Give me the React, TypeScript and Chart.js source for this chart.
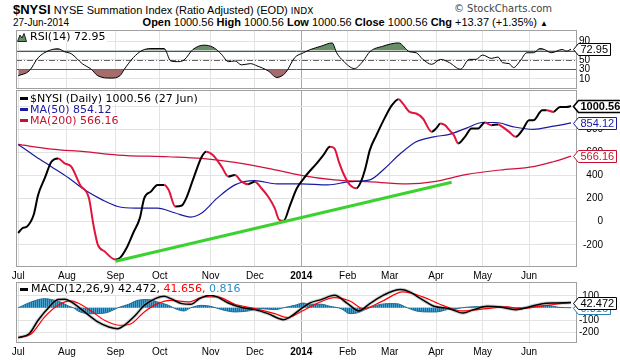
import React, { useEffect, useRef } from 'react';
import { Chart, registerables } from 'chart.js';

Chart.register(...registerables);

const SANS = '"Liberation Sans", Arial, sans-serif';
const DEJAVU = '"DejaVu Sans", Verdana, sans-serif';

// x = trading-day index: 0 = 1-Jul-2013 ... 250 = 27-Jun-2014
const monthTickDays = [0, 22, 44, 64, 87, 107, 128, 149, 168, 189, 210, 231];
const monthTickLabels = ['Jul', 'Aug', 'Sep', 'Oct', 'Nov', 'Dec', '2014', 'Feb', 'Mar', 'Apr', 'May', 'Jun'];
const yearTickDay = 128;

// $NYSI daily close
const nysiDays = [0, 2, 4, 7, 9, 12, 15, 18, 21, 24, 28, 32, 34, 36, 39, 44, 46, 49, 52, 55, 57, 60, 63, 66, 68, 71, 74, 76, 79, 83, 85, 88, 92, 95, 98, 101, 104, 107, 110, 113, 116, 118, 120, 123, 126, 129, 131, 135, 138, 141, 143, 145, 147, 150, 153, 155, 157, 159, 162, 166, 169, 172, 174, 177, 180, 183, 187, 189, 191, 193, 195, 197, 199, 202, 205, 208, 211, 214, 217, 219, 222, 225, 228, 231, 233, 237, 239, 242, 245, 248, 250];
const nysiValues = [-100, -57, -43, 58, 230, 375, 518, 547, 504, 475, 317, 202, -28, -201, -259, -331, -316, -230, -100, 29, 202, 259, 317, 317, 274, 130, 138, 202, 360, 561, 605, 576, 475, 389, 403, 345, 323, 345, 288, 216, 116, 15, 6, 144, 288, 370, 418, 504, 576, 648, 634, 518, 418, 317, 288, 345, 461, 619, 749, 907, 1008, 1060, 1022, 950, 936, 893, 777, 807, 850, 835, 792, 749, 677, 734, 807, 807, 858, 835, 841, 820, 777, 734, 792, 878, 878, 965, 965, 950, 993, 993, 1000.56];

// MA(50)
const ma50Days = [0, 8, 15, 23, 30, 38, 45, 53, 63, 71, 78, 83, 90, 98, 107, 117, 128, 140, 150, 159, 165, 173, 180, 188, 195, 203, 210, 216, 224, 233, 242, 250];
const ma50Values = [668, 561, 475, 375, 274, 187, 130, 116, 116, 73, 38, 73, 202, 317, 354, 326, 326, 317, 345, 360, 446, 591, 691, 734, 755, 812, 858, 858, 820, 798, 826, 854.12];

// MA(200)
const ma200Days = [0, 15, 30, 45, 68, 83, 98, 113, 128, 143, 158, 176, 188, 203, 218, 233, 242, 250];
const ma200Values = [668, 628, 605, 576, 561, 547, 513, 461, 400, 360, 345, 326, 345, 409, 446, 475, 518, 566.16];

// hand-drawn trend line
const trendDays = [44, 196];
const trendValues = [-345, 340];

// RSI(14)
const rsiDays = [0, 5, 9, 14, 18, 21, 24, 29, 33, 36, 42, 46, 48, 52, 56, 60, 66, 69, 72, 75, 79, 84, 88, 92, 95, 98, 101, 105, 108, 113, 117, 121, 125, 129, 132, 137, 142, 144, 147, 152, 156, 159, 165, 172, 177, 180, 183, 187, 191, 195, 200, 204, 207, 210, 214, 217, 219, 222, 224, 227, 230, 233, 236, 238, 241, 246, 248, 250];
const rsiValues = [16.3, 26.8, 54.8, 70.2, 73.8, 67.5, 63.3, 42, 30.2, 16.3, 11.3, 16.3, 30.2, 54.8, 70.2, 74.4, 74.4, 47.9, 46.4, 50, 72.3, 81.6, 77.4, 61.8, 46.4, 47.9, 39.5, 42.2, 37.4, 26.8, 12.7, 23.3, 54.8, 65.4, 72, 79.5, 86.4, 65.4, 47.9, 31.7, 47.9, 67.5, 79.5, 86.4, 67.5, 65.4, 51.3, 40.7, 51.3, 44.3, 30.2, 51.3, 51.3, 60.5, 53.4, 56.3, 44.3, 42.2, 33.8, 47.9, 65.4, 65.4, 74.4, 72.3, 65.4, 72.3, 69, 72.95];

// MACD(12,26,9)
const macdDays = [0, 5, 9, 14, 18, 21, 24, 30, 36, 41, 45, 48, 53, 57, 62, 66, 69, 74, 78, 82, 87, 90, 95, 101, 107, 113, 120, 123, 128, 132, 137, 143, 149, 154, 159, 165, 173, 177, 182, 188, 195, 201, 206, 212, 218, 225, 231, 237, 243, 250];
const macdValues = [-244, -212, -102, 7, 67, 70, 48, -34, -116, -157, -171, -143, -61, 20, 75, 94, 75, 34, 29, 75, 102, 89, 39, 2, -15, -48, -97, -75, -7, 40, 67, 102, 34, -26, 34, 102, 149, 130, 75, 12, -7, -43, -15, 12, 7, -15, 7, 34, 40, 42.472];
const signalDays = [0, 6, 12, 18, 24, 27, 33, 39, 46, 51, 57, 63, 69, 77, 84, 90, 98, 107, 116, 122, 128, 135, 143, 150, 156, 164, 174, 183, 192, 201, 212, 221, 227, 236, 243, 250];
const signalValues = [-244, -212, -75, 20, 56, 39, -26, -102, -143, -130, -34, 34, 61, 48, 89, 89, 29, -7, -48, -80, -30, 34, 84, 56, -7, 48, 130, 89, 20, -26, -7, 7, -7, 12, 29, 41.656];
const histDays = [0, 4, 8, 12, 15, 19, 23, 25, 27, 32, 36, 41, 45, 50, 54, 59, 63, 68, 71, 75, 78, 83, 87, 92, 98, 104, 110, 116, 120, 125, 129, 132, 137, 141, 146, 150, 153, 158, 162, 167, 171, 176, 180, 185, 189, 194, 198, 203, 209, 218, 225, 233, 239, 245, 250];
const histValues = [0, 34, 61, 75, 67, 48, 12, 0, -26, -48, -48, -34, 0, 29, 61, 67, 48, 20, -7, -26, 0, 20, 12, -15, -34, -26, -7, -15, 0, 20, 39, 29, 29, 12, -7, -48, -43, -7, 20, 34, 34, 0, -26, -34, -34, -15, -7, 5, 10, 10, 0, 10, 20, 3, 0.816];

const rsiTicks = [10, 30, 50, 70, 90];
const priceTicks = [-200, 0, 200, 400, 600, 800, 1000];
const macdTicks = [-200, -100, 0, 100];

const pts = (days: number[], vals: number[]) => days.map((d, i) => ({ x: d, y: vals[i] }));
const last = (a: number[]) => a[a.length - 1];

function xAxis(showLabels: boolean, height: number): any {
  return {
    type: 'linear',
    min: -1,
    max: 252.7,
    afterBuildTicks: (s: any) => { s.ticks = monthTickDays.map((v) => ({ value: v })); },
    afterFit: (s: any) => { s.height = height; s.paddingLeft = 0; s.paddingRight = 0; },
    grid: {
      color: (c: any) => (c.tick && c.tick.value === yearTickDay ? '#a8a8a8' : '#e3e3e3'),
      drawTicks: false,
    },
    border: { display: false },
    ticks: {
      display: showLabels,
      autoSkip: false,
      maxRotation: 0,
      padding: 3,
      color: '#000',
      font: (c: any) => ({ family: SANS, size: 10, weight: c.tick && c.tick.value === yearTickDay ? 'bold' : 'normal' }),
      callback: (v: any) => { const i = monthTickDays.indexOf(v); return i >= 0 ? monthTickLabels[i] : ''; },
    },
  };
}

function yAxis(min: number, max: number, ticks: number[]): any {
  return {
    type: 'linear',
    position: 'right',
    min,
    max,
    afterBuildTicks: (s: any) => { s.ticks = ticks.map((v) => ({ value: v })); },
    afterFit: (s: any) => { s.width = 43; s.paddingTop = 0; s.paddingBottom = 0; },
    grid: { color: '#e3e3e3', drawTicks: false },
    border: { display: false },
    ticks: { display: false },
  };
}

// right-axis tick labels, right-aligned at a fixed edge
const makeYLabels = (ticks: number[], blank: number[], rightEdge: number) => ({
  id: 'ylabels',
  afterDraw(chart: any) {
    const { ctx, scales } = chart;
    ctx.save();
    ctx.font = `10px ${SANS}`;
    ctx.fillStyle = '#000';
    ctx.textAlign = 'right';
    ctx.textBaseline = 'middle';
    ticks.forEach((v) => {
      if (blank.indexOf(v) >= 0) return;
      ctx.fillText(String(v), rightEdge, Math.round(scales.y.getPixelForValue(v)) + 0.5);
    });
    ctx.restore();
  },
});

type HLine = { value: number; color: string; dash?: number[] };
const makeHLines = (lines: HLine[]) => ({
  id: 'hlines',
  beforeDatasetsDraw(chart: any) {
    const { ctx, chartArea, scales } = chart;
    ctx.save();
    lines.forEach((l) => {
      const y = Math.round(scales.y.getPixelForValue(l.value)) + 0.5;
      ctx.beginPath();
      ctx.setLineDash(l.dash || []);
      ctx.strokeStyle = l.color;
      ctx.lineWidth = 1;
      ctx.moveTo(chartArea.left, y);
      ctx.lineTo(chartArea.right, y);
      ctx.stroke();
    });
    ctx.restore();
  },
});

const framePlugin = {
  id: 'frame',
  afterDatasetsDraw(chart: any) {
    const { ctx, chartArea } = chart;
    ctx.save();
    ctx.strokeStyle = '#a0a0a0';
    ctx.lineWidth = 1;
    ctx.strokeRect(Math.round(chartArea.left) + 0.5, Math.round(chartArea.top) + 0.5,
      Math.round(chartArea.right - chartArea.left) - 1, Math.round(chartArea.bottom - chartArea.top) - 1);
    ctx.restore();
  },
};

type Box = { value: number; text: string; color: string; textColor?: string; bold?: boolean };
const makeBoxes = (boxes: Box[]) => ({
  id: 'valueBoxes',
  afterDraw(chart: any) {
    const { ctx, chartArea, scales } = chart;
    boxes.forEach((b) => {
      const y = Math.round(scales.y.getPixelForValue(b.value)) + 0.5;
      ctx.save();
      ctx.font = `${b.bold ? 'bold ' : ''}11px ${SANS}`;
      const w = ctx.measureText(b.text).width;
      const tip = Math.round(chartArea.right) - 3.5;
      const x1 = tip + 5;
      const x2 = Math.round(x1 + w + 4) + 0.5;
      const h = 12;
      ctx.beginPath();
      ctx.moveTo(tip, y);
      ctx.lineTo(x1, y - h / 2);
      ctx.lineTo(x2, y - h / 2);
      ctx.lineTo(x2, y + h / 2);
      ctx.lineTo(x1, y + h / 2);
      ctx.closePath();
      ctx.fillStyle = '#fff';
      ctx.fill();
      ctx.lineWidth = b.bold ? 1.6 : 1;
      ctx.strokeStyle = b.color;
      ctx.stroke();
      ctx.fillStyle = b.textColor || b.color;
      ctx.textBaseline = 'middle';
      ctx.textAlign = 'left';
      ctx.fillText(b.text, x1 + 2, y + 0.5);
      ctx.restore();
    });
  },
});

const baseOptions = (x: any, y: any, padTop: number, padBottom: number): any => ({
  responsive: false,
  animation: false,
  devicePixelRatio: 1,
  events: [],
  layout: { padding: { left: 16, right: 0, top: padTop, bottom: padBottom } },
  plugins: { legend: { display: false }, tooltip: { enabled: false } },
  elements: { point: { radius: 0 }, line: { cubicInterpolationMode: 'monotone' } },
  scales: { x, y },
});

export default function App() {
  const rsiRef = useRef<HTMLCanvasElement>(null);
  const mainRef = useRef<HTMLCanvasElement>(null);
  const macdRef = useRef<HTMLCanvasElement>(null);

  useEffect(() => {
    const charts: Chart[] = [];

    // RSI panel
    const rsiPts = pts(rsiDays, rsiValues);
    charts.push(new Chart(rsiRef.current as HTMLCanvasElement, {
      type: 'line',
      data: {
        datasets: [
          { data: rsiPts, borderColor: '#000', borderWidth: 1, order: 0,
            fill: { target: { value: 70 }, above: 'rgb(104,142,104)', below: 'rgba(0,0,0,0)' } } as any,
          { data: rsiPts, borderColor: 'rgba(0,0,0,0)', borderWidth: 0, order: 1,
            fill: { target: { value: 30 }, above: 'rgba(0,0,0,0)', below: 'rgb(164,108,108)' } } as any,
        ],
      },
      options: baseOptions(xAxis(false, 0), yAxis(-12, 114, rsiTicks), 1, 1),
      plugins: [
        makeHLines([
          { value: 70, color: '#555' },
          { value: 50, color: '#666', dash: [6, 2, 1, 2] },
          { value: 30, color: '#555' },
        ]),
        framePlugin,
        makeYLabels(rsiTicks, [70], 590),
        makeBoxes([{ value: last(rsiValues), text: last(rsiValues).toFixed(2), color: '#000' }]),
      ],
    }));

    // Price panel
    charts.push(new Chart(mainRef.current as HTMLCanvasElement, {
      type: 'line',
      data: {
        datasets: [
          { data: pts(trendDays, trendValues), borderColor: '#3ad22e', borderWidth: 3, order: 0,
            cubicInterpolationMode: 'default', tension: 0 } as any,
          { data: pts(nysiDays, nysiValues), borderColor: '#000', borderWidth: 2, order: 1,
            segment: { borderColor: (c: any) => (c.p1.parsed.y < c.p0.parsed.y ? '#e0143c' : '#000') } } as any,
          { data: pts(ma50Days, ma50Values), borderColor: '#1a1aa0', borderWidth: 1.2, order: 2 },
          { data: pts(ma200Days, ma200Values), borderColor: '#d0103a', borderWidth: 1.2, order: 3 },
        ],
      },
      options: baseOptions(xAxis(true, 15), yAxis(-395, 1140, priceTicks), 1, 0),
      plugins: [
        framePlugin,
        makeYLabels(priceTicks, [1000], 603),
        makeBoxes([
          { value: last(ma200Values), text: last(ma200Values).toFixed(2), color: '#c8102e' },
          { value: last(ma50Values), text: last(ma50Values).toFixed(2), color: '#1a1aa0' },
          { value: last(nysiValues), text: last(nysiValues).toFixed(2), color: '#000', bold: true },
        ]),
      ],
    }));

    // MACD panel
    const pc = document.createElement('canvas');
    pc.width = 2; pc.height = 2;
    const pctx = pc.getContext('2d') as CanvasRenderingContext2D;
    pctx.fillStyle = '#4aa2cf'; pctx.fillRect(0, 0, 2, 2);
    pctx.fillStyle = '#22688e'; pctx.fillRect(1, 0, 1, 2);
    const mctx = (macdRef.current as HTMLCanvasElement).getContext('2d') as CanvasRenderingContext2D;
    const stripes = mctx.createPattern(pc, 'repeat');

    charts.push(new Chart(macdRef.current as HTMLCanvasElement, {
      type: 'line',
      data: {
        datasets: [
          { data: pts(macdDays, macdValues), borderColor: '#000', borderWidth: 1.5, order: 0 },
          { data: pts(signalDays, signalValues), borderColor: '#ff0000', borderWidth: 1.2, order: 1 },
          { data: pts(macdDays, macdValues), borderColor: 'rgba(150,150,150,0.45)', borderWidth: 3.5, order: 2 },
          { data: pts(histDays, histValues), borderColor: '#1f6b93', borderWidth: 1, order: 3,
            backgroundColor: stripes as any, fill: 'origin' } as any,
        ],
      },
      options: baseOptions(xAxis(true, 17), yAxis(-288, 211, macdTicks), 1, 0),
      plugins: [
        framePlugin,
        makeYLabels(macdTicks, [0], 599),
        makeBoxes([
          { value: last(histValues), text: last(histValues).toFixed(3), color: '#2a7fb0' },
          { value: last(macdValues), text: last(macdValues).toFixed(3), color: '#000' },
        ]),
      ],
    }));

    return () => charts.forEach((c) => c.destroy());
  }, []);

  const legendLine = (color: string, text: string, top: number) => (
    <div style={{ position: 'absolute', left: 20, top, height: 11, lineHeight: '11px', fontFamily: DEJAVU, fontSize: 11, color, whiteSpace: 'nowrap', display: 'flex', alignItems: 'center' }}>
      <span style={{ display: 'inline-block', width: 8, height: 3, background: color, marginRight: 2 }} />
      <span style={{ background: '#fff' }}>{text}</span>
    </div>
  );

  return (
    <div style={{ position: 'fixed', left: 0, top: 0, width: 620, height: 360, background: '#fff', overflow: 'hidden', fontFamily: SANS }}>
      {/* header */}
      <div style={{ position: 'absolute', left: 13, top: 1, whiteSpace: 'nowrap', lineHeight: '15px' }}>
        <span style={{ fontWeight: 'bold', fontSize: 13 }}>$NYSI</span>
        <span style={{ fontSize: 11 }}> NYSE Summation Index (Ratio Adjusted) (EOD) </span>
        <span style={{ fontSize: 9, fontFamily: DEJAVU }}>INDX</span>
      </div>
      <div style={{ position: 'absolute', right: 68, top: 3, fontSize: 10, color: '#444', whiteSpace: 'nowrap', fontFamily: DEJAVU, lineHeight: '12px' }}>
        © StockCharts.com
      </div>
      <div style={{ position: 'absolute', left: 13, top: 17, fontSize: 10, whiteSpace: 'nowrap', lineHeight: '12px' }}>27-Jun-2014</div>
      <div style={{ position: 'absolute', right: 72, top: 16, fontSize: 11, whiteSpace: 'nowrap', lineHeight: '13px' }}>
        <b>Open</b> 1000.56 <b>High</b> 1000.56 <b>Low</b> 1000.56 <b>Close</b> 1000.56 <b>Chg</b> +13.37 (+1.35%) <span style={{ fontSize: 8 }}>▲</span>
      </div>

      <canvas ref={rsiRef} width={620} height={61} style={{ position: 'absolute', left: 0, top: 29 }} />
      <canvas ref={mainRef} width={620} height={193} style={{ position: 'absolute', left: 0, top: 89 }} />
      <canvas ref={macdRef} width={620} height={79} style={{ position: 'absolute', left: 0, top: 281 }} />

      {/* RSI legend */}
      <div style={{ position: 'absolute', left: 17, top: 31, height: 12, lineHeight: '12px', fontFamily: DEJAVU, fontSize: 11, whiteSpace: 'nowrap', display: 'flex', alignItems: 'center', background: '#fff', paddingRight: 2 }}>
        <svg width="10" height="9" style={{ marginRight: 3 }}>
          <polygon points="0.5,8.5 3,2 5,5 7,0.5 9.5,8.5" fill="rgb(104,142,104)" stroke="#222" strokeWidth="1" />
        </svg>
        <span>RSI(14) {last(rsiValues).toFixed(2)}</span>
      </div>

      {/* price legend */}
      {legendLine('#000', `$NYSI (Daily) ${last(nysiValues).toFixed(2)} (27 Jun)`, 93)}
      {legendLine('#1a1aa0', `MA(50) ${last(ma50Values).toFixed(2)}`, 104)}
      {legendLine('#c8102e', `MA(200) ${last(ma200Values).toFixed(2)}`, 115)}

      {/* MACD legend */}
      <div style={{ position: 'absolute', left: 20, top: 283, height: 12, lineHeight: '12px', fontFamily: DEJAVU, fontSize: 11, whiteSpace: 'nowrap', display: 'flex', alignItems: 'center' }}>
        <span style={{ display: 'inline-block', width: 8, height: 3, background: '#000', marginRight: 3 }} />
        <span style={{ background: '#fff' }}>
          MACD(12,26,9) {last(macdValues).toFixed(3)},
          <span style={{ color: '#ff0000' }}> {last(signalValues).toFixed(3)},</span>
          <span style={{ color: '#2a8fc8' }}> {last(histValues).toFixed(3)}</span>
        </span>
      </div>
    </div>
  );
}
